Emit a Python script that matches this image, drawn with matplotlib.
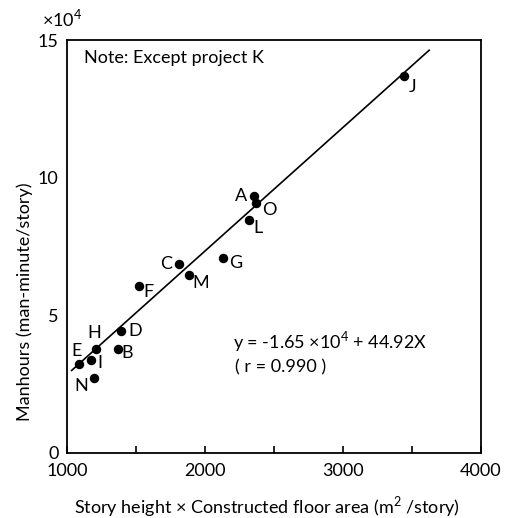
import numpy as np
import matplotlib
matplotlib.use('Agg')
import matplotlib.pyplot as plt

plt.rcParams['font.family'] = ['Lato', 'DejaVu Sans']
plt.rcParams['mathtext.fontset'] = 'custom'
plt.rcParams['mathtext.rm'] = 'Lato'

# project data (x: story height x floor area, y: manhours in 1e4)
projects = ['A', 'B', 'C', 'D', 'E', 'F', 'G', 'H', 'I', 'J', 'L', 'M', 'N', 'O']
x_vals = [2355, 1372, 1814, 1396, 1087, 1522, 2133, 1210, 1174, 3444, 2321, 1882, 1196, 2370]
y_vals = [9.32, 3.78, 6.87, 4.44, 3.24, 6.07, 7.09, 3.78, 3.38, 13.68, 8.47, 6.48, 2.73, 9.10]

# regression y = -1.65e4 + 44.92 x
intercept = -1.65e4
slope = 44.92
line_x = [1035, 3625]

# label offsets in pixels (dx, dy)
offsets = {'A': (-13, 0), 'B': (9, -4), 'C': (-13, 0), 'D': (14, 0), 'E': (-2, 13),
           'F': (10, -6), 'G': (12, -5), 'H': (-2, 16), 'I': (9, -3), 'J': (8, -11),
           'L': (9, -8), 'M': (12, -8), 'N': (-13, -8), 'O': (13, -7)}

fs = 13

fig = plt.figure(figsize=(5.1, 5.18), dpi=100)
ax = fig.add_axes([0.131, 0.1255, 0.812, 0.797])

lx = np.array(line_x)
ax.plot(lx, (intercept + slope * lx) / 1e4, color='black', lw=1.2)
ax.plot(x_vals, y_vals, 'o', color='black', ms=5.8)

for name, x, y in zip(projects, x_vals, y_vals):
    dx, dy = offsets[name]
    ax.annotate(name, (x, y), xytext=(dx, dy), textcoords='offset pixels',
                ha='center', va='center', fontsize=fs)

ax.set_xlim(1000, 4000)
ax.set_ylim(0, 15)
ax.set_xticks([1000, 2000, 3000, 4000])
ax.set_xticks([1500, 2500, 3500], minor=True)
ax.set_yticks([0, 5, 10, 15])
ax.tick_params(axis='x', which='both', direction='in', length=5, width=1.2, labelsize=fs, pad=7)
ax.tick_params(axis='y', direction='out', length=4, width=1.2, labelsize=fs, pad=2)
# no tick marks at the corners
for t in ax.xaxis.get_major_ticks():
    t.tick1line.set_visible(t.get_loc() not in (1000, 4000))
for t in ax.yaxis.get_major_ticks():
    t.tick1line.set_visible(t.get_loc() not in (0, 15))
for s in ax.spines.values():
    s.set_linewidth(1.3)

ax.text(0.041, 0.956, 'Note: Except project K', transform=ax.transAxes,
        ha='left', va='center', fontsize=fs)
ax.text(0.401, 0.269, 'y = -1.65 ×10$^4$ + 44.92X', transform=ax.transAxes,
        ha='left', va='center', fontsize=fs)
ax.text(0.405, 0.208, '( r = 0.990 )', transform=ax.transAxes,
        ha='left', va='center', fontsize=fs)

fig.text(0.082, 0.965, '×10$^4$', ha='left', va='center', fontsize=fs)
fig.text(0.049, 0.417, 'Manhours (man-minute/story)', rotation=90,
         ha='center', va='center', fontsize=fs)
fig.text(0.524, 0.023, 'Story height × Constructed floor area (m$^2$ /story)',
         ha='center', va='center', fontsize=fs)

plt.savefig('out.png', dpi=100)
